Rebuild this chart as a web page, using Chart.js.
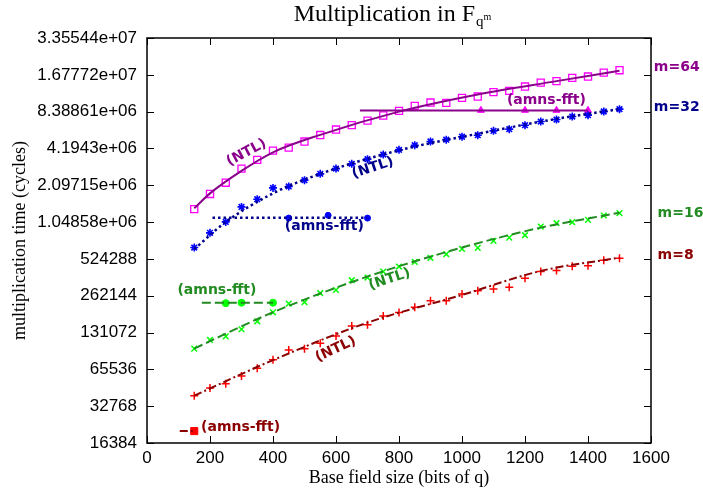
<!DOCTYPE html>
<html>
<head>
<meta charset="utf-8">
<script src="https://cdn.jsdelivr.net/npm/chart.js@4.4.1/dist/chart.umd.min.js"></script>
<style>
  html, body { margin: 0; padding: 0; background: #fff; }
  #wrap { width: 703px; height: 490px; }
</style>
</head>
<body>
<div id="wrap"><canvas id="mulChart"></canvas></div>
<script>
// base field sizes (bits of q) for the NTL measurements
const bits = [150, 200, 250, 300, 350, 400, 450, 500, 550, 600, 650, 700, 750, 800,
              850, 900, 950, 1000, 1050, 1100, 1150, 1200, 1250, 1300, 1350, 1400, 1450, 1500];

// NTL measured cycles
const ntl64 = [1.34e6, 1.78e6, 2.2e6, 2.87e6, 3.38e6, 4.03e6, 4.26e6, 4.78e6, 5.4e6, 5.99e6, 6.5e6, 7.09e6, 7.8e6, 8.52e6,
               9.36e6, 9.96e6, 9.9e6, 10.88e6, 11.15e6, 12.1e6, 12.4e6, 13.45e6, 14.5e6, 14.9e6, 15.85e6, 16.25e6, 17.5e6, 18.3e6];
const ntl32 = [0.649e6, 0.856e6, 1.052e6, 1.396e6, 1.614e6, 1.996e6, 2.05e6, 2.31e6, 2.6e6, 2.87e6, 3.14e6, 3.43e6, 3.74e6, 4.09e6,
               4.46e6, 4.78e6, 4.95e6, 5.23e6, 5.38e6, 5.84e6, 6.03e6, 6.5e6, 6.96e6, 7.23e6, 7.65e6, 7.85e6, 8.41e6, 8.79e6];
const ntl16 = [96.8e3, 114e3, 122e3, 139.5e3, 162e3, 192e3, 226e3, 232e3, 275e3, 292e3, 351e3, 369e3, 413e3, 454e3,
               495e3, 534e3, 573e3, 633e3, 645e3, 736e3, 783e3, 819e3, 964e3, 1.027e6, 1.046e6, 1.093e6, 1.187e6, 1.241e6];
const ntl8  = [39.9e3, 46.2e3, 50.1e3, 57.9e3, 67.0e3, 78.7e3, 94.4e3, 96.8e3, 107e3, 123e3, 148e3, 152e3, 179e3, 191e3,
               211e3, 239e3, 239e3, 271e3, 288e3, 298e3, 308e3, 365e3, 413e3, 421e3, 457e3, 462e3, 512e3, 531e3];

// fitted curves
const fit64X = [150, 200, 300, 400, 550, 800, 1050, 1300, 1500];
const fit64  = [1.36e6, 1.8e6, 2.75e6, 3.9e6, 5.42e6, 8.39e6, 11.6e6, 14.9e6, 18.1e6];
const fit32X = [150, 250, 400, 550, 800, 1050, 1300, 1500];
const fit32  = [0.63e6, 1.05e6, 1.8e6, 2.6e6, 4.05e6, 5.53e6, 7.32e6, 8.8e6];
const fit16X = [150, 400, 700, 1000, 1250, 1500];
const fit16  = [97e3, 192e3, 376e3, 649e3, 945e3, 1.25e6];
const fit8X  = [150, 400, 700, 1000, 1250, 1500];
const fit8   = [40e3, 78e3, 158e3, 266e3, 418e3, 537e3];

// amns-fft measurements
const amns64X = [1060, 1200, 1300, 1400];
const amns64  = [8.6e6, 8.6e6, 8.6e6, 8.6e6];
const amns32X = [450, 575, 700];
const amns32  = [1.13e6, 1.19e6, 1.13e6];
const amns16X = [250, 300, 400];
const amns16  = [228e3, 230e3, 230e3];
const amns8X  = [150];
const amns8   = [20.5e3];

// amns-fft level lines
const amnsLine64X = [676, 1400];
const amnsLine64  = [8.55e6, 8.55e6];
const amnsLine32X = [208, 700];
const amnsLine32  = [1.14e6, 1.14e6];
const amnsLine16X = [174, 400];
const amnsLine16  = [230e3, 230e3];
const amnsLine8X  = [104, 150];
const amnsLine8   = [20.5e3, 20.5e3];

const xTickVals = [0, 200, 400, 600, 800, 1000, 1200, 1400, 1600];
const yTickVals = [16384, 32768, 65536, 131072, 262144, 524288, 1048576, 2097152, 4194304, 8388608, 16777216, 33554432];
const yTickLabels = ['16384', '32768', '65536', '131072', '262144', '524288', '1.04858e+06', '2.09715e+06',
                     '4.1943e+06', '8.38861e+06', '1.67772e+07', '3.35544e+07'];

const C64 = '#8b008b', C32 = '#00008b', C16 = '#228b22', C8 = '#8b0000';

function pts(xs, ys) { return xs.map((x, i) => ({ x: x, y: ys[i] })); }

// text annotations, anchored in data coordinates
const notes = [
  { t: '(NTL)', x: 316, y: 3.88e6, c: C64, r: -28 },
  { t: '(amns-fft)', x: 1268, y: 10.28e6, c: C64, r: 0 },
  { t: '(NTL)', x: 717, y: 2.91e6, c: C32, r: -18 },
  { t: '(amns-fft)', x: 563, y: 0.964e6, c: C32, r: 0 },
  { t: '(amns-fft)', x: 222, y: 288e3, c: C16, r: 0 },
  { t: '(NTL)', x: 770, y: 357e3, c: C16, r: -18 },
  { t: '(NTL)', x: 599, y: 95.7e3, c: C8, r: -25 },
  { t: '(amns-fft)', x: 297, y: 22.0e3, c: C8, r: 0 },
  { t: 'm=64', x: 1609, y: 19.4e6, c: C64, r: 0, left: true },
  { t: 'm=32', x: 1609, y: 9.1e6, c: C32, r: 0, left: true },
  { t: 'm=16', x: 1621, y: 1.24e6, c: C16, r: 0, left: true },
  { t: 'm=8', x: 1621, y: 558e3, c: C8, r: 0, left: true }
];

const decor = {
  id: 'decor',
  afterDraw(chart) {
    const ctx = chart.ctx, a = chart.chartArea;
    const xs = chart.scales.x, ys = chart.scales.y;
    ctx.save();
    // inward ticks on all four sides
    ctx.strokeStyle = '#000';
    ctx.lineWidth = 1;
    ctx.beginPath();
    xTickVals.forEach(v => {
      const p = Math.round(xs.getPixelForValue(v)) + 0.5;
      ctx.moveTo(p, a.bottom); ctx.lineTo(p, a.bottom - 7);
      ctx.moveTo(p, a.top); ctx.lineTo(p, a.top + 7);
    });
    yTickVals.forEach(v => {
      const p = Math.round(ys.getPixelForValue(v)) + 0.5;
      ctx.moveTo(a.left, p); ctx.lineTo(a.left + 7, p);
      ctx.moveTo(a.right, p); ctx.lineTo(a.right - 7, p);
    });
    ctx.stroke();
    // frame
    ctx.lineWidth = 1.5;
    ctx.strokeRect(a.left, a.top, a.right - a.left, a.bottom - a.top);

    // annotations
    ctx.font = 'bold 14px "DejaVu Sans"';
    ctx.textBaseline = 'middle';
    notes.forEach(n => {
      const px = xs.getPixelForValue(n.x), py = ys.getPixelForValue(n.y);
      ctx.save();
      ctx.fillStyle = n.c;
      ctx.translate(px, py);
      ctx.rotate(n.r * Math.PI / 180);
      ctx.textAlign = n.left ? 'left' : 'center';
      ctx.fillText(n.t, 0, 0);
      ctx.restore();
    });

    // title: Multiplication in F_{q^m}
    ctx.fillStyle = '#000';
    ctx.textBaseline = 'alphabetic';
    ctx.textAlign = 'left';
    const main = 'Multiplication in F';
    ctx.font = '24px "Liberation Serif"';
    const w1 = ctx.measureText(main).width;
    ctx.font = '15px "Liberation Serif"';
    const w2 = ctx.measureText('q').width;
    ctx.font = '10px "Liberation Serif"';
    const w3 = ctx.measureText('m').width;
    const x0 = 392 - (w1 + w2 + w3) / 2;
    ctx.font = '24px "Liberation Serif"';
    ctx.fillText(main, x0, 21);
    ctx.font = '15px "Liberation Serif"';
    ctx.fillText('q', x0 + w1 + 1, 26);
    ctx.font = '10px "Liberation Serif"';
    ctx.fillText('m', x0 + w1 + w2 + 1, 20);

    // axis titles
    ctx.font = '18px "Liberation Serif"';
    ctx.textAlign = 'center';
    ctx.textBaseline = 'middle';
    ctx.fillText('Base field size (bits of q)', (a.left + a.right) / 2, 478);
    ctx.save();
    ctx.translate(20, (a.top + a.bottom) / 2);
    ctx.rotate(-Math.PI / 2);
    ctx.fillText('multiplication time (cycles)', 0, 0);
    ctx.restore();
    ctx.restore();
  }
};

const tickFont = { family: '"Liberation Sans", Arial, sans-serif', size: 17 };

new Chart(document.getElementById('mulChart'), {
  type: 'scatter',
  data: {
    datasets: [
      // fit curves
      { data: pts(fit64X, fit64), showLine: true, borderColor: C64, borderWidth: 2, pointRadius: 0, cubicInterpolationMode: 'monotone' },
      { data: pts(fit32X, fit32), showLine: true, borderColor: C32, borderWidth: 2.5, borderDash: [2.5, 3], pointRadius: 0, cubicInterpolationMode: 'monotone' },
      { data: pts(fit16X, fit16), showLine: true, borderColor: C16, borderWidth: 2, borderDash: [9, 4], pointRadius: 0, cubicInterpolationMode: 'monotone' },
      { data: pts(fit8X, fit8), showLine: true, borderColor: C8, borderWidth: 2, borderDash: [8, 3, 2, 3], pointRadius: 0, cubicInterpolationMode: 'monotone' },
      // amns level lines
      { data: pts(amnsLine64X, amnsLine64), showLine: true, borderColor: C64, borderWidth: 2, pointRadius: 0 },
      { data: pts(amnsLine32X, amnsLine32), showLine: true, borderColor: C32, borderWidth: 2.5, borderDash: [2.5, 3], pointRadius: 0 },
      { data: pts(amnsLine16X, amnsLine16), showLine: true, borderColor: C16, borderWidth: 2, borderDash: [9, 4], pointRadius: 0 },
      { data: pts(amnsLine8X, amnsLine8), showLine: true, borderColor: C8, borderWidth: 2, borderDash: [8, 3, 2, 3], pointRadius: 0 },
      // NTL points
      { data: pts(bits, ntl64), pointStyle: 'rect', pointRadius: 5, borderColor: '#ff00ff', backgroundColor: 'rgba(0,0,0,0)', borderWidth: 1.3 },
      { data: pts(bits, ntl32), pointStyle: 'star', pointRadius: 4, borderColor: '#0000ff', borderWidth: 1.6 },
      { data: pts(bits, ntl16), pointStyle: 'crossRot', pointRadius: 4, borderColor: '#00ff00', borderWidth: 1.5 },
      { data: pts(bits, ntl8), pointStyle: 'cross', pointRadius: 4, borderColor: '#ff0000', borderWidth: 1.5 },
      // amns-fft points
      { data: pts(amns64X, amns64), pointStyle: 'triangle', pointRadius: 4, borderColor: '#ff00ff', backgroundColor: '#ff00ff', borderWidth: 1 },
      { data: pts(amns32X, amns32), pointStyle: 'circle', pointRadius: 3, borderColor: '#0000ff', backgroundColor: '#0000ff', borderWidth: 1 },
      { data: pts(amns16X, amns16), pointStyle: 'circle', pointRadius: 3.5, borderColor: '#00ff00', backgroundColor: '#00ff00', borderWidth: 1 },
      { data: pts(amns8X, amns8), pointStyle: 'rect', pointRadius: 5, borderColor: '#ff0000', backgroundColor: '#ff0000', borderWidth: 1 }
    ]
  },
  options: {
    responsive: true,
    maintainAspectRatio: false,
    animation: false,
    layout: { padding: { left: 0, right: 52, top: 38, bottom: 0 } },
    plugins: { legend: { display: false }, tooltip: { enabled: false } },
    scales: {
      x: {
        type: 'linear', min: 0, max: 1600,
        afterBuildTicks: s => { s.ticks = xTickVals.map(v => ({ value: v })); },
        afterFit: s => { s.height = 47; },
        ticks: { color: '#000', font: tickFont, padding: 5, maxRotation: 0, autoSkip: false, callback: v => String(v) },
        grid: { display: false, drawTicks: false },
        border: { display: false }
      },
      y: {
        type: 'logarithmic', min: 16384, max: 33554432,
        afterBuildTicks: s => { s.ticks = yTickVals.map(v => ({ value: v })); },
        afterFit: s => { s.width = 147; },
        ticks: { color: '#000', font: tickFont, padding: 10, autoSkip: false, callback: (v, i) => yTickLabels[i] },
        grid: { display: false, drawTicks: false },
        border: { display: false }
      }
    }
  },
  plugins: [decor]
});
</script>
</body>
</html>
